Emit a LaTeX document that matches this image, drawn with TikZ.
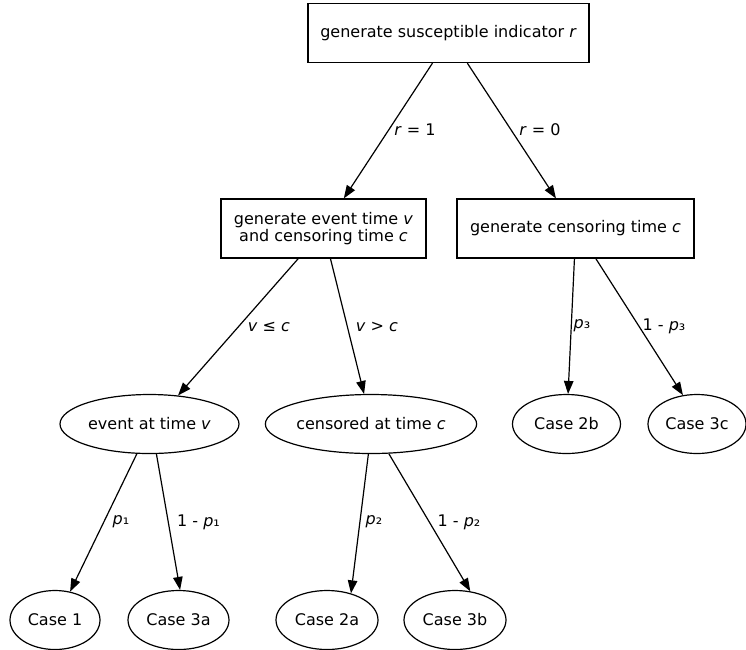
\documentclass[tikz,border=0pt]{standalone}
\usepackage{fontspec}
\setmainfont{DejaVu Sans}
\usetikzlibrary{arrows.meta,shapes.geometric}
\begin{document}
\begin{tikzpicture}[x=1pt,y=-1pt,
  every node/.style={font=\fontsize{16}{17.5}\selectfont},
  boxnode/.style={draw,line width=1.2pt,rectangle,inner sep=0pt,minimum height=59pt,align=center},
  ellnode/.style={draw,line width=1.2pt,ellipse,inner sep=0pt,minimum height=59pt},
  arr/.style={line width=1.2pt,-{Triangle[length=13pt,width=9.5pt]}},
  lbl/.style={inner sep=0pt}]
\useasboundingbox (0,0) rectangle (746,649);
% boxes
\node[boxnode,minimum width=281pt] (top) at (448.5,33) {generate susceptible indicator \textit{r}};
\node[boxnode,minimum width=205pt] (ge) at (323.5,228.5) {generate event time \textit{v}\\and censoring time \textit{c}};
\node[boxnode,minimum width=237pt] (cb) at (575.5,228.5) {generate censoring time \textit{c}};
% ellipses
\node[ellnode,minimum width=179pt] (ev) at (149.5,424) {event at time \textit{v}};
\node[ellnode,minimum width=208pt] (ce) at (371,424) {censored at time \textit{c}};
\node[ellnode,minimum width=108pt] (c2b) at (566.5,424) {Case 2b};
\node[ellnode,minimum width=98pt] (c3c) at (697,424) {Case 3c};
\node[ellnode,minimum width=90pt] (c1) at (55,620) {Case 1};
\node[ellnode,minimum width=101pt] (c3a) at (178.5,620) {Case 3a};
\node[ellnode,minimum width=102pt] (c2a) at (327,620) {Case 2a};
\node[ellnode,minimum width=102pt] (c3b) at (455,620) {Case 3b};
% edges
\draw[arr] (top.-118.1) -- (ge.56.5);
\draw[arr] (top.-58.9) -- (cb.123.5);
\draw[arr] (ge.-130.8) -- (ev.45.5);
\draw[arr] (ge.-77.6) -- (ce.103.6);
\draw[arr] (cb.-92.9) -- (c2b.87);
\draw[arr] (cb.-56.5) -- (c3c.116.6);
\draw[arr] (ev.-113.3) -- (c1.62.6);
\draw[arr] (ev.-77.4) -- (c3a.87);
\draw[arr] (ce.-95.7) -- (c2a.48);
\draw[arr] (ce.-59) -- (c3b.62);
% labels
\node[lbl] (l1) at (415,130) {\textit{r} = 1};
\node[lbl] (l2) at (540,130) {\textit{r} = 0};
\node[lbl] (l3) at (269,327) {\textit{v} ≤ \textit{c}};
\node[lbl] (l4) at (377,327) {\textit{v} > \textit{c}};
\node[lbl] (l5) at (582,326) {\textit{p}₃};
\node[lbl] (l6) at (664,326) {1 - \textit{p}₃};
\node[lbl] (l7) at (121,522) {\textit{p}₁};
\node[lbl] (l8) at (198.5,522) {1 - \textit{p}₁};
\node[lbl] (l9) at (374,522) {\textit{p}₂};
\node[lbl] (l10) at (459,522) {1 - \textit{p}₂};
\end{tikzpicture}
\end{document}
